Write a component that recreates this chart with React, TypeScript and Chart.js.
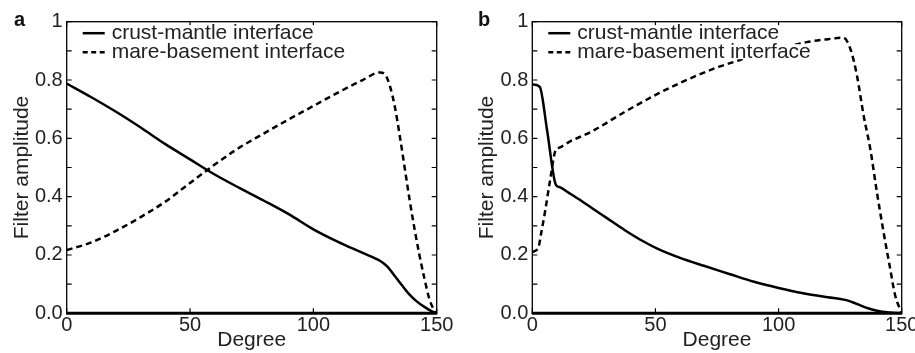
import React, { useEffect, useRef } from 'react';
import { Chart, registerables } from 'chart.js';

Chart.register(...registerables);

// ---------- Data ----------
const seriesLabels = ['crust-mantle interface', 'mare-basement interface'];
const xTicks = [0, 50, 100, 150];
const yTickLabels = ['0.0', '0.2', '0.4', '0.6', '0.8', '1'];

// Panel a
const crustDegA = [0, 10, 20, 30, 40, 50, 60, 70, 80, 90, 100, 110, 120, 127, 130, 133, 136, 139, 142, 145, 148, 150];
const crustValA = [0.788, 0.741, 0.691, 0.637, 0.58, 0.528, 0.476, 0.43, 0.386, 0.34, 0.288, 0.245, 0.207, 0.18, 0.16, 0.128, 0.095, 0.064, 0.04, 0.022, 0.007, 0];
const mareDegA = [0, 10, 20, 30, 40, 50, 60, 70, 80, 90, 100, 110, 120, 127, 129, 131, 133, 135, 137, 139, 141, 143, 145, 147, 149, 150];
const mareValA = [0.217, 0.243, 0.283, 0.33, 0.383, 0.447, 0.51, 0.568, 0.617, 0.665, 0.711, 0.757, 0.8, 0.826, 0.82, 0.78, 0.71, 0.61, 0.5, 0.39, 0.29, 0.2, 0.12, 0.05, 0.01, 0];

// Panel b
const crustDegB = [0, 3, 6, 9.6, 11, 15, 20, 24, 30, 37.6, 45, 51.2, 60, 70, 80, 90, 100, 110, 120, 127, 130, 133, 136, 140, 145, 150];
const crustValB = [0.785, 0.777, 0.628, 0.44, 0.433, 0.412, 0.385, 0.362, 0.328, 0.285, 0.247, 0.22, 0.19, 0.162, 0.135, 0.108, 0.087, 0.069, 0.055, 0.046, 0.038, 0.028, 0.018, 0.009, 0.003, 0];
const mareDegB = [0, 2.4, 3.5, 5.2, 7.2, 9.5, 11, 15, 24, 37.6, 51.2, 60, 74, 84, 95, 104, 111.4, 120, 126.3, 129.1, 131.8, 134.5, 137.2, 139.9, 142.6, 145.3, 147.3, 150];
const mareValB = [0.211, 0.223, 0.27, 0.35, 0.455, 0.56, 0.568, 0.588, 0.623, 0.691, 0.754, 0.79, 0.84, 0.868, 0.9, 0.915, 0.93, 0.94, 0.945, 0.908, 0.817, 0.68, 0.566, 0.417, 0.28, 0.154, 0.063, 0];

const FONT = "'Liberation Sans', Arial, Helvetica, sans-serif";
const TEXT = '#222';

const toPts = (xs: number[], ys: number[]) => xs.map((x, i) => ({ x, y: ys[i] }));

const framePlugin = {
  id: 'frame',
  beforeDatasetsDraw(chart: any) {
    const { ctx, chartArea: a, scales } = chart;
    ctx.save();
    ctx.strokeStyle = '#000';
    ctx.lineWidth = 1.3;
    ctx.strokeRect(a.left, a.top, a.right - a.left, a.bottom - a.top);
    ctx.lineWidth = 1.2;
    ctx.beginPath();
    for (const t of scales.y.ticks) {
      const y = scales.y.getPixelForValue(t.value);
      ctx.moveTo(a.left, y); ctx.lineTo(a.left + 5, y);
      ctx.moveTo(a.right, y); ctx.lineTo(a.right - 5, y);
    }
    for (const t of scales.x.ticks) {
      const x = scales.x.getPixelForValue(t.value);
      ctx.moveTo(x, a.bottom); ctx.lineTo(x, a.bottom - 5);
      ctx.moveTo(x, a.top); ctx.lineTo(x, a.top + 5);
    }
    ctx.stroke();
    ctx.lineWidth = 3;
    ctx.beginPath();
    ctx.moveTo(a.left - 0.5, a.bottom);
    ctx.lineTo(a.right + 0.5, a.bottom);
    ctx.stroke();
    ctx.restore();
  },
  afterDatasetsDraw(chart: any, _args: any, opts: any) {
    const { ctx, chartArea: a } = chart;
    ctx.save();
    ctx.font = `21px ${FONT}`;
    ctx.textBaseline = 'middle';
    chart.data.datasets.forEach((ds: any, i: number) => {
      const y = a.top + 11.5 + i * 19;
      const x0 = a.left + 16;
      const x1 = a.left + 38;
      const tx = a.left + 45;
      const w = ctx.measureText(ds.label).width;
      ctx.fillStyle = '#fff';
      ctx.fillRect(x0 - 2, y - 8, tx + w - x0 + 4, 15);
      ctx.strokeStyle = '#000';
      ctx.lineWidth = 2.5;
      ctx.setLineDash(i === 0 ? [] : [5, 3.5]);
      ctx.beginPath();
      ctx.moveTo(x0, y);
      ctx.lineTo(x1, y);
      ctx.stroke();
      ctx.setLineDash([]);
      ctx.fillStyle = TEXT;
      ctx.textAlign = 'left';
      ctx.fillText(ds.label, tx, y);
    });
    ctx.font = `bold 20px ${FONT}`;
    ctx.fillStyle = '#111';
    ctx.textAlign = 'left';
    ctx.fillText(opts.letter, opts.letterX, 20);
    ctx.restore();
  },
};

type PanelProps = {
  width: number;
  left: number;
  yAxisWidth: number;
  rightPad: number;
  letter: string;
  letterX: number;
  crustX: number[];
  crustY: number[];
  mareX: number[];
  mareY: number[];
};

function Panel(p: PanelProps) {
  const ref = useRef<HTMLCanvasElement>(null);
  useEffect(() => {
    if (!ref.current) return;
    const H = 353;
    const top = 21.7;
    const bottom = 313.3;
    const chart = new Chart(ref.current, {
      type: 'line',
      data: {
        datasets: [
          {
            label: seriesLabels[0],
            data: toPts(p.crustX, p.crustY),
            borderColor: '#000',
            borderWidth: 2.5,
            pointRadius: 0,
            fill: false,
            cubicInterpolationMode: 'monotone',
          },
          {
            label: seriesLabels[1],
            data: toPts(p.mareX, p.mareY),
            borderColor: '#000',
            borderWidth: 2.5,
            borderDash: [6, 4],
            pointRadius: 0,
            fill: false,
            cubicInterpolationMode: 'monotone',
          },
        ],
      },
      options: {
        responsive: false,
        animation: false,
        devicePixelRatio: 1,
        layout: { padding: { top, right: p.rightPad, left: 0, bottom: 0 } },
        plugins: {
          legend: { display: false },
          tooltip: { enabled: false },
          frame: { letter: p.letter, letterX: p.letterX },
        } as any,
        scales: {
          x: {
            type: 'linear',
            min: 0,
            max: 150,
            afterBuildTicks: (s: any) => { s.ticks = xTicks.map((v) => ({ value: v })); },
            ticks: { stepSize: 50, padding: 0, font: { family: FONT, size: 20 }, color: TEXT, maxRotation: 0, autoSkip: false },
            grid: { display: false, drawTicks: false },
            border: { display: false },
            title: { display: true, text: 'Degree', font: { family: FONT, size: 21 }, color: TEXT, padding: { top: 0, bottom: 0 } },
            afterFit: (s: any) => { s.height = H - bottom; s.paddingLeft = 0; s.paddingRight = 0; },
          },
          y: {
            type: 'linear',
            min: 0,
            max: 1,
            ticks: {
              stepSize: 0.1,
              padding: 4,
              autoSkip: false,
              font: { family: FONT, size: 20 },
              color: TEXT,
              callback: (v: any) => {
                const r = Math.round(Number(v) * 10);
                return r % 2 ? '' : yTickLabels[r / 2];
              },
            },
            grid: { display: false, drawTicks: false },
            border: { display: false },
            title: {
              display: true,
              text: 'Filter amplitude',
              font: { family: FONT, size: 21 },
              color: TEXT,
              padding: { top: p.yAxisWidth - 66.7 + 9.5, bottom: 0 },
            },
            afterFit: (s: any) => { s.width = p.yAxisWidth; s.paddingTop = 0; s.paddingBottom = 0; },
          },
        },
      },
      plugins: [framePlugin as any],
    });
    return () => chart.destroy();
  }, []);
  return (
    <canvas
      ref={ref}
      width={p.width}
      height={353}
      style={{ position: 'absolute', left: p.left, top: 0, width: p.width, height: 353 }}
    />
  );
}

export default function App() {
  return (
    <div style={{ position: 'fixed', left: 0, top: 0, width: 915, height: 353, background: '#fff', overflow: 'hidden' }}>
      <Panel width={455} left={0} yAxisWidth={66.7} rightPad={18.3} letter="a" letterX={14}
        crustX={crustDegA} crustY={crustValA} mareX={mareDegA} mareY={mareValA} />
      <Panel width={460} left={455} yAxisWidth={77.3} rightPad={13.3} letter="b" letterX={23}
        crustX={crustDegB} crustY={crustValB} mareX={mareDegB} mareY={mareValB} />
    </div>
  );
}
